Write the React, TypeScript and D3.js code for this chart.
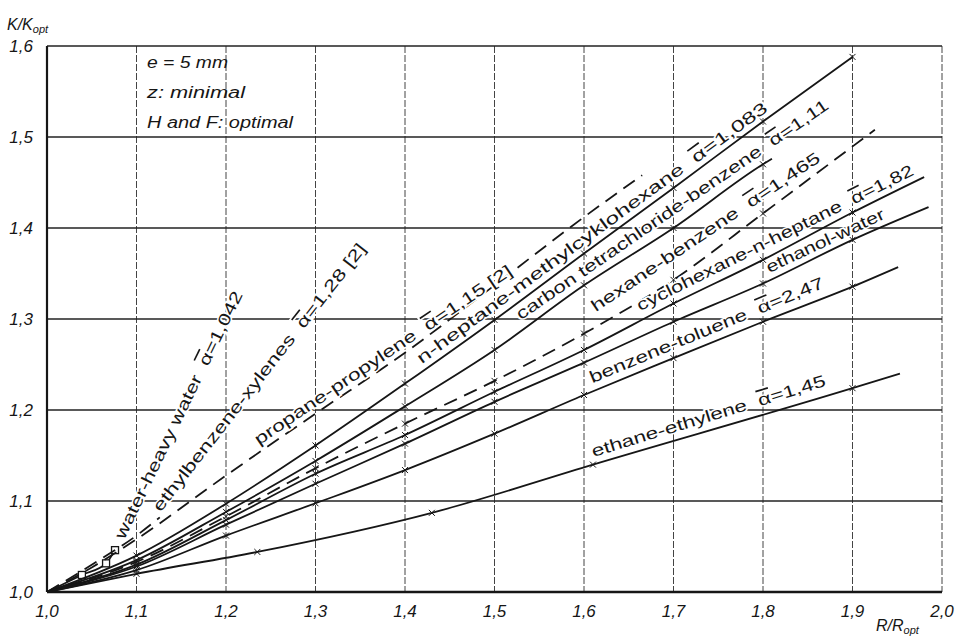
import React from 'react';
import * as d3 from 'd3';

const W = 955;
const H = 639;

// axis ticks
const xTicks = [1.0, 1.1, 1.2, 1.3, 1.4, 1.5, 1.6, 1.7, 1.8, 1.9, 2.0];
const yTicks = [1.0, 1.1, 1.2, 1.3, 1.4, 1.5, 1.6];

// curves, [R/Ropt, K/Kopt]
const waterHeavyWater: [number, number][] = [[1.0, 1.0], [1.039, 1.0187], [1.066, 1.0315], [1.076, 1.046]];
const ethylbenzeneXylenes: [number, number][] = [[1.0, 1.0], [1.05, 1.03], [1.1, 1.062], [1.126, 1.082]];
const propanePropylene: [number, number][] = [
  [1.0, 1.0], [1.05, 1.027], [1.1, 1.058], [1.2, 1.128], [1.3, 1.196], [1.4, 1.263], [1.5, 1.337], [1.6, 1.412], [1.665, 1.458],
];
const nHeptaneMch: [number, number][] = [
  [1.0, 1.0], [1.1, 1.04], [1.2, 1.097], [1.3, 1.161], [1.4, 1.229], [1.5, 1.299], [1.6, 1.372], [1.7, 1.444], [1.8, 1.517], [1.9, 1.588],
];
const ccl4Benzene: [number, number][] = [
  [1.0, 1.0], [1.1, 1.035], [1.2, 1.088], [1.3, 1.144], [1.4, 1.204], [1.5, 1.266], [1.6, 1.337], [1.7, 1.4], [1.8, 1.47], [1.81, 1.476],
];
const hexaneBenzene: [number, number][] = [
  [1.0, 1.0], [1.1, 1.033], [1.2, 1.083], [1.3, 1.136], [1.4, 1.185], [1.5, 1.232], [1.6, 1.284], [1.7, 1.343], [1.8, 1.416], [1.925, 1.508],
];
const cyclohexaneHeptane: [number, number][] = [
  [1.0, 1.0], [1.1, 1.03], [1.2, 1.079], [1.3, 1.13], [1.4, 1.1725], [1.5, 1.22], [1.6, 1.266], [1.7, 1.317], [1.8, 1.365], [1.9, 1.417], [1.98, 1.456],
];
const ethanolWater: [number, number][] = [
  [1.0, 1.0], [1.1, 1.028], [1.2, 1.074], [1.3, 1.119], [1.4, 1.163], [1.5, 1.209], [1.6, 1.252], [1.7, 1.297], [1.8, 1.339], [1.9, 1.387], [1.985, 1.423],
];
const benzeneToluene: [number, number][] = [
  [1.0, 1.0], [1.1, 1.024], [1.2, 1.062], [1.3, 1.0975], [1.4, 1.134], [1.5, 1.174], [1.6, 1.2165], [1.7, 1.257], [1.8, 1.297], [1.9, 1.3355], [1.951, 1.357],
];
const ethaneEthylene: [number, number][] = [
  [1.0, 1.0], [1.1, 1.02], [1.235, 1.044], [1.43, 1.087], [1.61, 1.14], [1.9, 1.224], [1.953, 1.24],
];

// curve labels: name, relative volatility
const labelNames = [
  'water-heavy water', 'ethylbenzene-xylenes', 'propane-propylene', 'n-heptane-methylcyklohexane',
  'carbon tetrachloride-benzene', 'hexane-benzene', 'cyclohexane-n-heptane', 'ethanol-water',
  'benzene-toluene', 'ethane-ethylene',
];
const labelAlphas = ['1,042', '1,28 [2]', '1,15 [2]', '1,083', '1,11', '1,465', '1,82', '', '2,47', '1,45'];

const notes = ['e = 5 mm', 'z: minimal', 'H and F: optimal'];

type Curve = { pts: [number, number][]; dashed: boolean; marker: 'x' | 'square' | 'none'; endMark?: boolean };
const curves: Curve[] = [
  { pts: waterHeavyWater, dashed: false, marker: 'square', endMark: true },
  { pts: ethylbenzeneXylenes, dashed: true, marker: 'none' },
  { pts: propanePropylene, dashed: true, marker: 'none' },
  { pts: nHeptaneMch, dashed: false, marker: 'x', endMark: true },
  { pts: ccl4Benzene, dashed: false, marker: 'x' },
  { pts: hexaneBenzene, dashed: true, marker: 'x' },
  { pts: cyclohexaneHeptane, dashed: false, marker: 'x' },
  { pts: ethanolWater, dashed: false, marker: 'x' },
  { pts: benzeneToluene, dashed: false, marker: 'x' },
  { pts: ethaneEthylene, dashed: false, marker: 'x' },
];

// label placement: baseline start in data units, angle (deg), length (px)
const labelLayout = [
  { at: [1.0883, 1.056], angle: 64.2, len: 273 },
  { at: [1.1285, 1.0857], angle: 52, len: 335 },
  { at: [1.238, 1.1593], angle: 34, len: 307 },
  { at: [1.42, 1.2484], angle: 36.2, len: 430 },
  { at: [1.5307, 1.2967], angle: 34.5, len: 375 },
  { at: [1.6145, 1.3055], angle: 33.9, len: 272 },
  { at: [1.6637, 1.3066], angle: 26.5, len: 307 },
  { at: [1.8078, 1.3484], angle: 25.2, len: 129 },
  { at: [1.61, 1.2275], angle: 22.4, len: 252 },
  { at: [1.6112, 1.1462], angle: 17, len: 244 },
];

const x = d3.scaleLinear().domain([1.0, 2.0]).range([47, 942]);
const y = d3.scaleLinear().domain([1.0, 1.6]).range([592, 46]);
const fmt = (v: number) => v.toFixed(1).replace('.', ',');

const ink = '#161616';
const labelFont = "'Liberation Sans Narrow', 'Liberation Sans', Arial, sans-serif";
const tickFont = "'Liberation Sans', Arial, sans-serif";

export default function App() {
  const line = d3
    .line<[number, number]>()
    .x((d) => x(d[0]))
    .y((d) => y(d[1]))
    .curve(d3.curveMonotoneX);

  return (
    <svg width={W} height={H} style={{ position: 'fixed', left: 0, top: 0, background: '#fff' }}>
      <rect width={W} height={H} fill="#fff" />

      {/* vertical grid, dashed */}
      {xTicks.slice(1).map((t) => (
        <line key={'vx' + t} x1={x(t)} x2={x(t)} y1={y(1.6)} y2={y(1.0)} stroke="#444" strokeWidth={1} strokeDasharray="7,2" />
      ))}
      {/* horizontal grid, solid */}
      {yTicks.slice(1).map((t) => (
        <line key={'hy' + t} x1={x(1.0)} x2={x(2.0)} y1={y(t)} y2={y(t)} stroke="#222" strokeWidth={t === 1.6 ? 1.6 : 1.3} />
      ))}
      {/* axes */}
      <line x1={x(1.0)} x2={x(1.0)} y1={y(1.6)} y2={y(1.0)} stroke={ink} strokeWidth={2.2} />
      <line x1={x(1.0)} x2={x(2.0)} y1={y(1.0)} y2={y(1.0)} stroke={ink} strokeWidth={2.6} />

      {/* tick labels */}
      {xTicks.map((t) => (
        <text key={'tx' + t} x={x(t)} y={617} textAnchor="middle" fontFamily={tickFont} fontStyle="italic" fontSize={17} fill={ink}>
          {fmt(t)}
        </text>
      ))}
      {yTicks.map((t) => (
        <text key={'ty' + t} x={33} y={y(t) + 6} textAnchor="end" fontFamily={tickFont} fontStyle="italic" fontSize={17} fill={ink}>
          {fmt(t)}
        </text>
      ))}
      <text x={7} y={30} fontFamily={tickFont} fontStyle="italic" fontSize={16} fill={ink}>
        K/K<tspan fontSize={11} dy={3}>opt</tspan>
      </text>
      <text x={876} y={631} fontFamily={tickFont} fontStyle="italic" fontSize={16} fill={ink}>
        R/R<tspan fontSize={11} dy={3}>opt</tspan>
      </text>

      {/* notes */}
      {notes.map((n, i) => (
        <text
          key={n}
          x={147}
          y={68 + i * 30}
          fontFamily={tickFont}
          fontStyle="italic"
          fontSize={16}
          fill={ink}
          textLength={[81, 98, 146][i]}
          lengthAdjust="spacingAndGlyphs"
        >
          {n}
        </text>
      ))}

      {/* curves */}
      {curves.map((c, i) => (
        <g key={'c' + i}>
          <path
            d={line(c.pts) || ''}
            fill="none"
            stroke={ink}
            strokeWidth={1.8}
            strokeDasharray={c.dashed ? '14,8' : undefined}
          />
          {c.pts
            .filter((p, j) => j > 0 && (j < c.pts.length - 1 || c.endMark))
            .filter(() => c.marker !== 'none')
            .map((p, j) =>
              c.marker === 'square' ? (
                <rect key={j} x={x(p[0]) - 3.5} y={y(p[1]) - 3.5} width={7} height={7} fill="#fff" stroke={ink} strokeWidth={1.3} />
              ) : (
                <path
                  key={j}
                  d={`M${x(p[0]) - 3},${y(p[1]) - 3}L${x(p[0]) + 3},${y(p[1]) + 3}M${x(p[0]) - 3},${y(p[1]) + 3}L${x(p[0]) + 3},${y(p[1]) - 3}`}
                  stroke={ink}
                  strokeWidth={1}
                />
              )
            )}
        </g>
      ))}

      {/* curve labels */}
      {labelNames.map((name, i) => {
        const L = labelLayout[i];
        return (
          <text
            key={'l' + i}
            transform={`translate(${x(L.at[0])},${y(L.at[1])}) rotate(${-L.angle})`}
            y={-2}
            fontFamily={labelFont}
            fontSize={16.5}
            fill={ink}
            stroke="#fff"
            strokeWidth={3}
            paintOrder="stroke"
            textLength={L.len}
            lengthAdjust="spacingAndGlyphs"
            style={{ whiteSpace: 'pre' }}
          >
            {name}
            {labelAlphas[i] !== '' && (
              <>
                {'  '}
                <tspan style={{ textDecoration: 'overline' }}>α</tspan>
                {'=' + labelAlphas[i]}
              </>
            )}
          </text>
        );
      })}
    </svg>
  );
}
